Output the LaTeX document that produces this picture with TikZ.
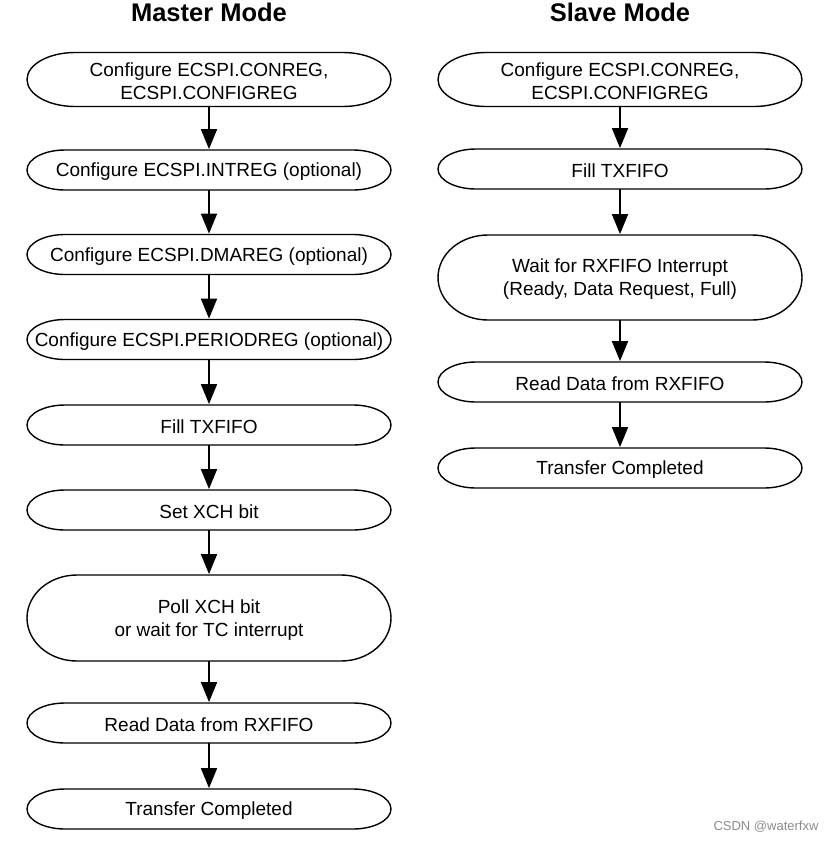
\documentclass[tikz,border=0pt]{standalone}
\usepackage{fontspec}
\setmainfont{Liberation Sans}
\usetikzlibrary{arrows.meta}
\begin{document}
\begin{tikzpicture}[x=1pt,y=-1pt,
  steptext/.style={inner sep=0pt, minimum width=364pt, align=center,
    font=\fontsize{19}{23}\selectfont},
  stepline/.style={draw, line width=1.4pt},
  flow/.style={line width=1.8pt, -{Triangle[width=16pt,length=20pt]}, shorten >=0.7pt, shorten <=-4pt},
  title/.style={font=\fontsize{25.5}{30}\selectfont\bfseries}]
\newcommand\fstep[6]{%
  \node[steptext, minimum height=#4*2pt+4pt] (#1) at (#2,#3+2) {#6};
  \draw[stepline] (#2-182+#5,#3-#4) -- (#2+182-#5,#3-#4)
    arc[start angle=90,end angle=-90,x radius=#5pt,y radius=#4pt]
    -- (#2-182+#5,#3+#4)
    arc[start angle=270,end angle=90,x radius=#5pt,y radius=#4pt] -- cycle;}
\useasboundingbox (0,0) rectangle (833,841);
\node[title] (mt) at (209,12) {Master Mode};
\node[title] (st) at (620,12) {Slave Mode};
% master
\fstep{m1}{209}{79.5}{27}{48}{Configure ECSPI.CONREG,\\ECSPI.CONFIGREG}
\fstep{m2}{209}{170}{20}{38}{Configure ECSPI.INTREG (optional)}
\fstep{m3}{209}{254.5}{20}{38}{Configure ECSPI.DMAREG (optional)}
\fstep{m4}{209}{339.5}{20}{38}{Configure ECSPI.PERIODREG (optional)}
\fstep{m5}{209}{425}{20}{38}{Fill TXFIFO}
\fstep{m6}{209}{510}{20}{38}{Set XCH bit}
\fstep{m7}{209}{618}{43}{50}{Poll XCH bit\\or wait for TC interrupt}
\fstep{m8}{209}{723}{20}{38}{Read Data from RXFIFO}
\fstep{m9}{209}{809}{20}{38}{Transfer Completed}
% slave
\fstep{s1}{620}{79.5}{27}{48}{Configure ECSPI.CONREG,\\ECSPI.CONFIGREG}
\fstep{s2}{620}{169}{20}{38}{Fill TXFIFO}
\fstep{s3}{620}{277.5}{42.5}{50}{Wait for RXFIFO Interrupt\\(Ready, Data Request, Full)}
\fstep{s4}{620}{382}{20}{38}{Read Data from RXFIFO}
\fstep{s5}{620}{468}{20}{38}{Transfer Completed}
\foreach \a/\b in {m1/m2,m2/m3,m3/m4,m4/m5,m5/m6,m6/m7,m7/m8,m8/m9,s1/s2,s2/s3,s3/s4,s4/s5}
  \draw[flow] (\a) -- (\b);
\node[text=black!45, font=\fontsize{13}{15}\selectfont] (wm) at (766,827) {CSDN @waterfxw};
\end{tikzpicture}
\end{document}
